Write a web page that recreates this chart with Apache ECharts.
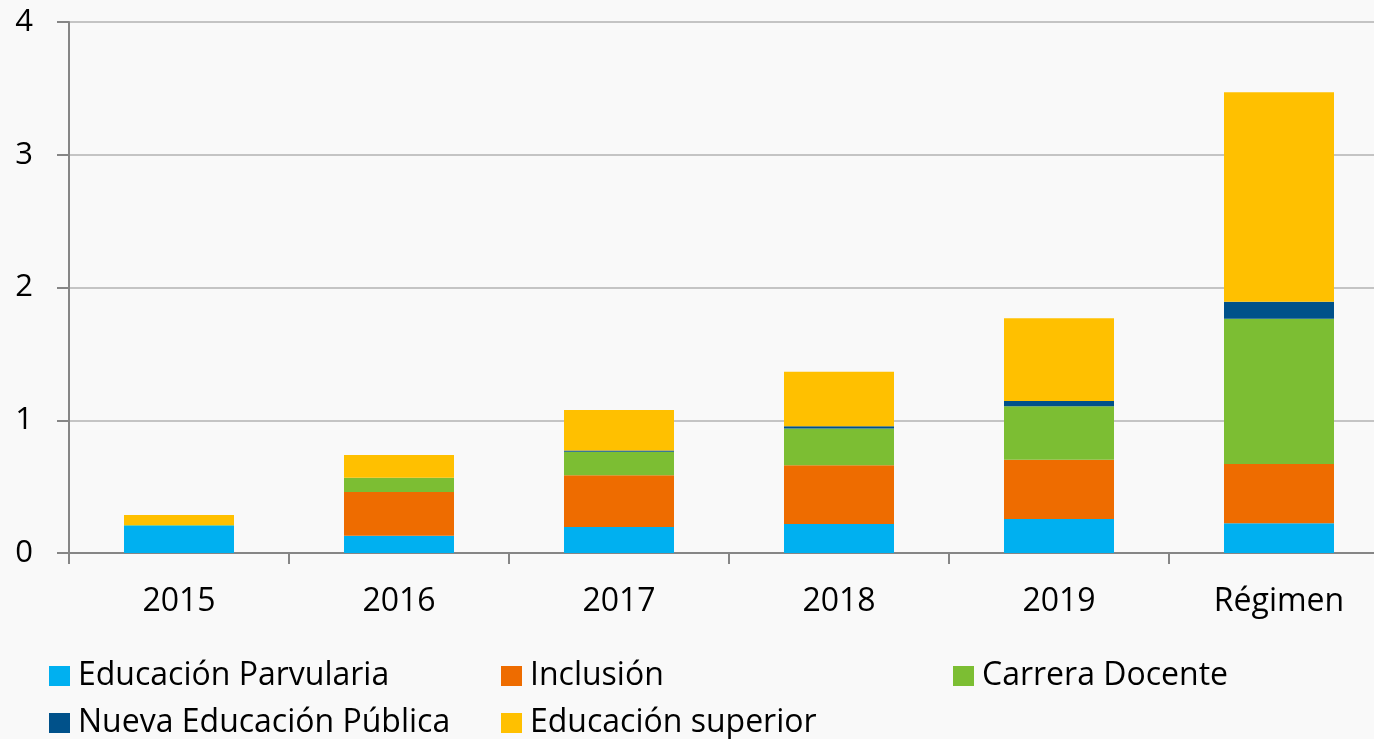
<!DOCTYPE html>
<html>
<head>
<meta charset="utf-8">
<script src="https://cdn.jsdelivr.net/npm/echarts@6/dist/echarts.min.js"></script>
<style>
  html, body { margin: 0; padding: 0; background: #f9f9f9; }
  #chart { width: 1374px; height: 739px; }
</style>
</head>
<body>
<div id="chart"></div>
<script>
// Categories and stacked components
const categories = ['2015', '2016', '2017', '2018', '2019', 'Régimen'];
const parvularia = [0.208, 0.130, 0.196, 0.218, 0.256, 0.224];
const inclusion = [0.000, 0.329, 0.389, 0.443, 0.447, 0.446];
const carreraDocente = [0.003, 0.108, 0.177, 0.276, 0.402, 1.095];
const nuevaEducacionPublica = [0.000, 0.000, 0.010, 0.018, 0.040, 0.128];
const educacionSuperior = [0.075, 0.171, 0.305, 0.411, 0.623, 1.577];
const yTicks = [0, 1, 2, 3, 4];

const seriesDefs = [
  { name: 'Educación Parvularia', data: parvularia, color: '#00B0F0' },
  { name: 'Inclusión', data: inclusion, color: '#EE6C00' },
  { name: 'Carrera Docente', data: carreraDocente, color: '#7CBE33' },
  { name: 'Nueva Educación Pública', data: nuevaEducacionPublica, color: '#00518A' },
  { name: 'Educación superior', data: educacionSuperior, color: '#FFC000' }
];

const FONT = 'Open Sans';
const legendPos = [
  { left: 49, top: 660 },
  { left: 501, top: 660 },
  { left: 953, top: 660 },
  { left: 49, top: 707 },
  { left: 501, top: 707 }
];

const chart = echarts.init(document.getElementById('chart'), null, { renderer: 'canvas' });
chart.setOption({
  backgroundColor: '#f9f9f9',
  animation: false,
  textStyle: { fontFamily: FONT },
  grid: { left: 69, top: 22, width: 1320, height: 531, containLabel: false, outerBoundsMode: 'none' },
  legend: seriesDefs.map((s, i) => ({
    data: [s.name],
    left: legendPos[i].left,
    top: legendPos[i].top,
    icon: 'rect',
    itemWidth: 21,
    itemHeight: 20,
    itemGap: 0,
    padding: 0,
    textStyle: { fontFamily: FONT, fontSize: 32, color: '#000', padding: [0, 0, 0, 3], lineHeight: 32 }
  })),
  xAxis: {
    type: 'category',
    data: categories,
    axisLine: { lineStyle: { color: '#868686', width: 2 } },
    axisTick: { show: true, length: 11, lineStyle: { color: '#868686', width: 2 } },
    axisLabel: { fontFamily: FONT, fontSize: 32, color: '#000', margin: 33 }
  },
  yAxis: {
    type: 'value',
    min: yTicks[0],
    max: yTicks[yTicks.length - 1],
    interval: 1,
    axisLine: { show: true, lineStyle: { color: '#868686', width: 2 } },
    axisTick: { show: true, length: 12, lineStyle: { color: '#868686', width: 2 } },
    splitLine: { lineStyle: { color: '#c4c4c4', width: 2 } },
    axisLabel: { fontFamily: FONT, fontSize: 31, color: '#000', margin: 36 }
  },
  series: seriesDefs.map(s => ({
    name: s.name,
    type: 'bar',
    stack: 'total',
    barWidth: 110,
    data: s.data,
    itemStyle: { color: s.color },
    emphasis: { disabled: true }
  }))
});
</script>
</body>
</html>
